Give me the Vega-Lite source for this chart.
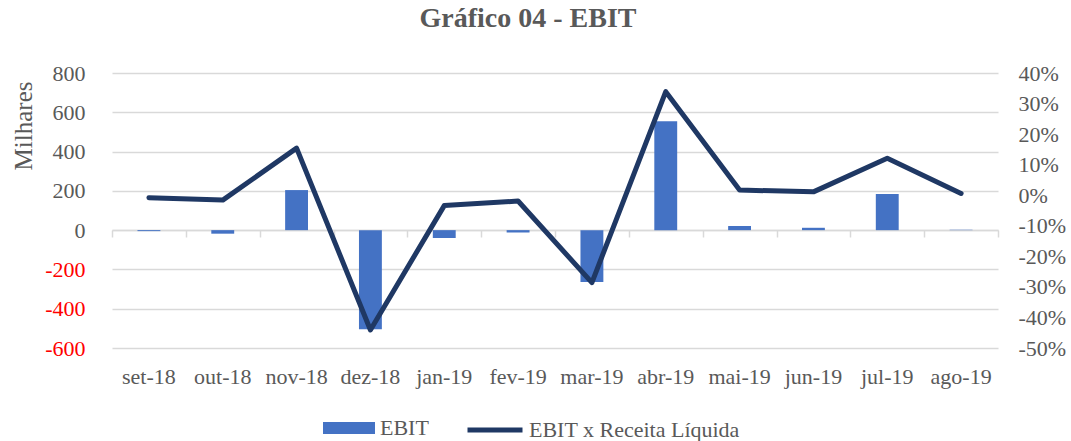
{
  "$schema": "https://vega.github.io/schema/vega-lite/v6.json",
  "width": 886,
  "height": 275,
  "autosize": {"type": "none"},
  "padding": {"left": 112, "top": 73, "right": 73, "bottom": 93},
  "background": "white",
  "config": {
    "font": "Liberation Serif",
    "view": {"stroke": null},
    "legend": {"padding": 0}
  },
  "title": {
    "text": "Gráfico 04 - EBIT",
    "fontSize": 28,
    "fontWeight": "bold",
    "color": "#595959",
    "font": "Liberation Serif",
    "anchor": "middle",
    "dx": -27,
    "offset": 29
  },
  "data": {
    "values": [
      {"mes": "set-18", "ebit": -5, "margem": -0.008},
      {"mes": "out-18", "ebit": -18, "margem": -0.016},
      {"mes": "nov-18", "ebit": 204, "margem": 0.154},
      {"mes": "dez-18", "ebit": -504, "margem": -0.441},
      {"mes": "jan-19", "ebit": -40, "margem": -0.034},
      {"mes": "fev-19", "ebit": -12, "margem": -0.019},
      {"mes": "mar-19", "ebit": -264, "margem": -0.286},
      {"mes": "abr-19", "ebit": 555, "margem": 0.339},
      {"mes": "mai-19", "ebit": 21, "margem": 0.017},
      {"mes": "jun-19", "ebit": 12, "margem": 0.011},
      {"mes": "jul-19", "ebit": 184, "margem": 0.121},
      {"mes": "ago-19", "ebit": 2, "margem": 0.006}
    ]
  },
  "layer": [
    {
      "mark": {"type": "bar", "width": {"band": 0.31}},
      "encoding": {
        "x": {
          "field": "mes", "type": "nominal", "sort": null,
          "scale": {"paddingInner": 0, "paddingOuter": 0},
          "axis": {
            "title": null, "labelAngle": 0, "labelFontSize": 22, "labelColor": "#595959",
            "labelPadding": 18, "domain": false, "ticks": false, "tickSize": 0, "grid": false
          }
        },
        "y": {
          "field": "ebit", "type": "quantitative",
          "scale": {"domain": [-600, 800], "nice": false, "zero": false},
          "axis": {
            "values": [-600, -400, -200, 0, 200, 400, 600, 800],
            "title": "Milhares", "titleFontSize": 25, "titleFontWeight": "normal",
            "titleColor": "#595959", "titleAnchor": "end", "titleX": -76, "titleY": 8,
            "labelExpr": "(datum.value < 0 ? '-' : '') + format(abs(datum.value), 'd')",
            "labelFontSize": 22, "labelPadding": 27,
            "labelColor": {"condition": {"test": "datum.value < 0", "value": "#FF0000"}, "value": "#595959"},
            "domain": false, "ticks": false, "grid": true, "gridColor": "#D9D9D9", "gridWidth": 1.5
          }
        },
        "fill": {
          "datum": "EBIT", "type": "nominal",
          "scale": {"range": ["#4472C4"]},
          "legend": {
            "title": null, "orient": "none", "legendX": 211, "legendY": 329,
            "symbolType": "M-1,-0.23H1V0.23H-1Z", "symbolSize": 2704,
            "symbolStrokeWidth": 0, "labelFontSize": 22, "labelColor": "#595959", "labelOffset": 5,
            "labelLimit": 0
          }
        }
      }
    },
    {
      "mark": {"type": "line", "strokeWidth": 5, "strokeCap": "round", "strokeJoin": "round"},
      "encoding": {
        "x": {
          "field": "mes", "type": "nominal", "sort": null,
          "scale": {"paddingInner": 0, "paddingOuter": 0},
          "axis": {
            "orient": "bottom", "offset": -118, "labels": false, "title": null,
            "domain": true, "domainColor": "#D9D9D9", "domainWidth": 1.5,
            "ticks": true, "tickBand": "extent", "tickSize": 7, "tickColor": "#D9D9D9", "tickWidth": 1.5,
            "grid": false
          }
        },
        "y": {
          "field": "margem", "type": "quantitative",
          "scale": {"domain": [-0.5, 0.4], "nice": false, "zero": false},
          "axis": {
            "orient": "right", "title": null,
            "values": [-0.5, -0.4, -0.3, -0.2, -0.1, 0, 0.1, 0.2, 0.3, 0.4],
            "labelExpr": "(datum.value < -0.0001 ? '-' : '') + format(abs(datum.value), '.0%')",
            "labelFontSize": 22, "labelColor": "#595959", "labelPadding": 20,
            "domain": false, "ticks": false, "grid": false
          }
        },
        "stroke": {
          "datum": "EBIT x Receita Líquida", "type": "nominal",
          "scale": {"range": ["#1F3864"]},
          "legend": {
            "title": null, "orient": "none", "legendX": 353, "legendY": 327,
            "symbolType": "stroke", "symbolSize": 3025, "symbolStrokeWidth": 5,
            "labelFontSize": 22, "labelColor": "#595959", "labelOffset": 4, "labelLimit": 0
          }
        }
      }
    }
  ],
  "resolve": {"scale": {"y": "independent"}, "axis": {"x": "independent"}}
}
